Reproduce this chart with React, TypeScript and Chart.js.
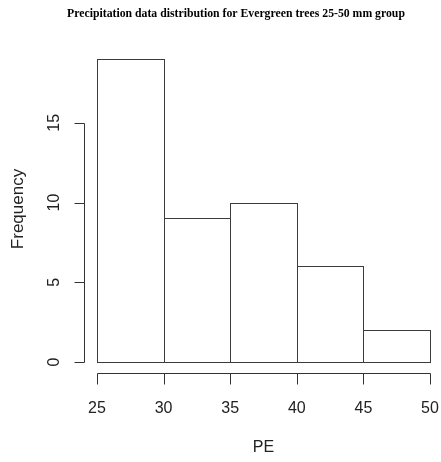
import React, { useEffect, useRef } from "react";
import { Chart, registerables } from "chart.js";

Chart.register(...registerables);

// Histogram bins (mm) and counts per bin
const breaks = [25, 30, 35, 40, 45, 50];
const counts = [19, 9, 10, 6, 2];
const xTicks = [25, 30, 35, 40, 45, 50];
const yTicks = [0, 5, 10, 15];

const titleText = "Precipitation data distribution for Evergreen trees 25-50 mm group";
const xTitle = "PE";
const yTitle = "Frequency";

const LABEL_FONT = '16px "Liberation Sans", Arial, sans-serif';

// Draws R-style detached axes, bar outlines, and the titles
const rAxesPlugin = {
  id: "rAxes",
  afterDatasetsDraw(chart: any) {
    const ctx = chart.ctx as CanvasRenderingContext2D;
    const xs = chart.scales.x;
    const ys = chart.scales.y;
    ctx.save();

    // bar outlines (single shared edges)
    ctx.strokeStyle = "#3c3c3c";
    ctx.lineWidth = 1;
    const meta = chart.getDatasetMeta(0);
    meta.data.forEach((el: any) => {
      const p = el.getProps(["x", "y", "base", "width"], true);
      const l = Math.round(p.x - p.width / 2) + 0.5;
      const r = Math.round(p.x + p.width / 2) + 0.5;
      const t = Math.round(p.y) + 0.5;
      const b = Math.round(p.base) + 0.5;
      ctx.strokeRect(l, t, r - l, b - t);
    });

    ctx.strokeStyle = "#333";
    ctx.fillStyle = "#222";
    ctx.font = LABEL_FONT;

    // y axis
    const yAxisX = Math.round(xs.getPixelForValue(breaks[0]) - 13) + 0.5;
    const yTop = Math.round(ys.getPixelForValue(yTicks[yTicks.length - 1])) + 0.5;
    const yBot = Math.round(ys.getPixelForValue(yTicks[0])) + 0.5;
    ctx.beginPath();
    ctx.moveTo(yAxisX, yTop);
    ctx.lineTo(yAxisX, yBot);
    yTicks.forEach((v) => {
      const py = Math.round(ys.getPixelForValue(v)) + 0.5;
      ctx.moveTo(yAxisX, py);
      ctx.lineTo(yAxisX - 10, py);
    });
    ctx.stroke();
    ctx.textAlign = "center";
    ctx.textBaseline = "middle";
    yTicks.forEach((v) => {
      const py = ys.getPixelForValue(v);
      ctx.save();
      ctx.translate(yAxisX - 29.5, py);
      ctx.rotate(-Math.PI / 2);
      ctx.fillText(String(v), 0, 0);
      ctx.restore();
    });

    // x axis
    const xAxisY = Math.round(ys.getPixelForValue(0) + 11) + 0.5;
    const xL = Math.round(xs.getPixelForValue(xTicks[0])) + 0.5;
    const xR = Math.round(xs.getPixelForValue(xTicks[xTicks.length - 1])) + 0.5;
    ctx.beginPath();
    ctx.moveTo(xL, xAxisY);
    ctx.lineTo(xR, xAxisY);
    xTicks.forEach((v) => {
      const px = Math.round(xs.getPixelForValue(v)) + 0.5;
      ctx.moveTo(px, xAxisY);
      ctx.lineTo(px, xAxisY + 11);
    });
    ctx.stroke();
    xTicks.forEach((v) => {
      ctx.fillText(String(v), xs.getPixelForValue(v), xAxisY + 35);
    });

    // axis titles
    const area = chart.chartArea;
    ctx.fillText(xTitle, (area.left + area.right) / 2, xAxisY + 74);
    ctx.save();
    ctx.font = '17px "Liberation Sans", Arial, sans-serif';
    ctx.translate(18, 209);
    ctx.rotate(-Math.PI / 2);
    ctx.fillText(yTitle, 0, 0);
    ctx.restore();

    // main title
    ctx.fillStyle = "#000";
    ctx.font = 'bold 11.75px "Liberation Serif", "Times New Roman", serif';
    ctx.fillText(titleText, 236, 14);

    ctx.restore();
  },
};

export default function App() {
  const ref = useRef<HTMLCanvasElement | null>(null);

  useEffect(() => {
    document.body.style.margin = "0";
    const canvas = ref.current;
    if (!canvas) return;
    const data = counts.map((c, i) => ({ x: (breaks[i] + breaks[i + 1]) / 2, y: c }));
    const chart = new Chart(canvas, {
      type: "bar",
      data: {
        datasets: [
          {
            data,
            backgroundColor: "#ffffff",
            borderWidth: 0,
            barPercentage: 1,
            categoryPercentage: 1,
            clip: false as any,
          },
        ],
      },
      options: {
        responsive: false,
        animation: false,
        layout: { padding: { left: 97, right: 11, top: 59, bottom: 100 } },
        plugins: { legend: { display: false }, tooltip: { enabled: false }, title: { display: false } },
        scales: {
          x: { type: "linear", min: breaks[0], max: breaks[breaks.length - 1], display: false, offset: false },
          y: { type: "linear", min: 0, max: 19, display: false },
        },
      },
      plugins: [rAxesPlugin],
    });
    return () => chart.destroy();
  }, []);

  return (
    <div style={{ position: "fixed", left: 0, top: 0, width: 441, height: 462, background: "#fff" }}>
      <canvas ref={ref} width={441} height={462} style={{ display: "block", width: 441, height: 462 }} />
    </div>
  );
}
